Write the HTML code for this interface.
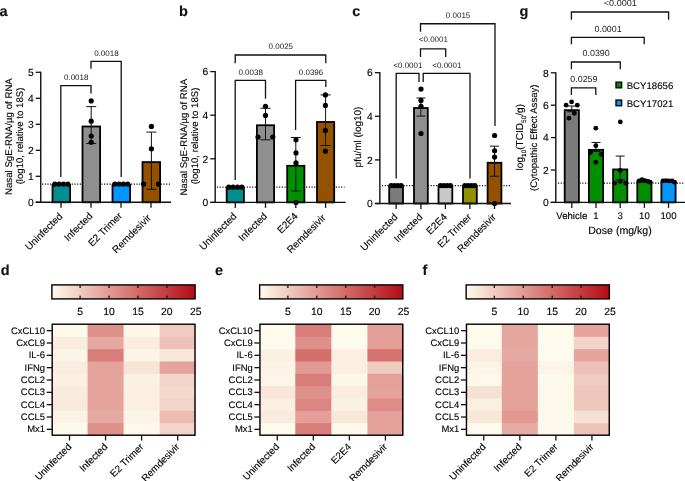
<!DOCTYPE html><html><head><meta charset="utf-8"><style>html,body{margin:0;padding:0;background:#fff;}svg{display:block;will-change:transform;}text{font-family:"Liberation Sans",sans-serif;text-rendering:geometricPrecision;stroke:#000;stroke-width:0.12px;}</style></head><body>
<svg width="685" height="481" viewBox="0 0 685 481">
<rect width="685" height="481" fill="#fff"/>
<text x="-0.6" y="15.7" font-size="14.5" text-anchor="start" fill="#111" font-weight="bold" >a</text>
<text x="178.9" y="15.6" font-size="14.5" text-anchor="start" fill="#111" font-weight="bold" >b</text>
<text x="352.2" y="15.6" font-size="14.5" text-anchor="start" fill="#111" font-weight="bold" >c</text>
<text x="519.4" y="15.6" font-size="14.5" text-anchor="start" fill="#111" font-weight="bold" >g</text>
<text x="0.7" y="274.6" font-size="14.5" text-anchor="start" fill="#111" font-weight="bold" >d</text>
<text x="215.1" y="274.6" font-size="14.5" text-anchor="start" fill="#111" font-weight="bold" >e</text>
<text x="422.4" y="274.6" font-size="14.5" text-anchor="start" fill="#111" font-weight="bold" >f</text>
<line x1="42" y1="184.1" x2="170" y2="184.1" stroke="#000" stroke-width="1.05" stroke-dasharray="1.1 1.6"/>
<rect x="52.5" y="185" width="17.6" height="17.3" fill="#008f8f" stroke="#000" stroke-width="1.8"/>
<rect x="82.5" y="126.5" width="17.6" height="75.8" fill="#8f8f8f" stroke="#000" stroke-width="1.8"/>
<rect x="112.5" y="185" width="17.6" height="17.3" fill="#0096ff" stroke="#000" stroke-width="1.8"/>
<rect x="142.5" y="162.12" width="17.6" height="40.18" fill="#945200" stroke="#000" stroke-width="1.8"/>
<line x1="91.2" y1="143.54" x2="91.2" y2="106.62" stroke="#111" stroke-width="1.0" />
<line x1="86.2" y1="106.62" x2="96.2" y2="106.62" stroke="#111" stroke-width="1.0" />
<line x1="86.2" y1="143.54" x2="96.2" y2="143.54" stroke="#111" stroke-width="1.0" />
<line x1="151.4" y1="189.3" x2="151.4" y2="132.1" stroke="#111" stroke-width="1.0" />
<line x1="146.4" y1="132.1" x2="156.4" y2="132.1" stroke="#111" stroke-width="1.0" />
<line x1="146.4" y1="189.3" x2="156.4" y2="189.3" stroke="#111" stroke-width="1.0" />
<circle cx="54.8" cy="184.1" r="2.6" fill="#000"/>
<circle cx="59.1" cy="184.1" r="2.6" fill="#000"/>
<circle cx="63.5" cy="184.1" r="2.6" fill="#000"/>
<circle cx="67.8" cy="184.1" r="2.6" fill="#000"/>
<circle cx="114.8" cy="184.1" r="2.6" fill="#000"/>
<circle cx="119.1" cy="184.1" r="2.6" fill="#000"/>
<circle cx="123.5" cy="184.1" r="2.6" fill="#000"/>
<circle cx="127.8" cy="184.1" r="2.6" fill="#000"/>
<circle cx="91.2" cy="100.9" r="2.6" fill="#000"/>
<circle cx="91.2" cy="121.18" r="2.6" fill="#000"/>
<circle cx="91.2" cy="136" r="2.6" fill="#000"/>
<circle cx="91.2" cy="142.24" r="2.6" fill="#000"/>
<circle cx="151.4" cy="126.38" r="2.6" fill="#000"/>
<circle cx="151.4" cy="148.74" r="2.6" fill="#000"/>
<circle cx="143.6" cy="184.1" r="2.6" fill="#000"/>
<circle cx="158.4" cy="184.1" r="2.6" fill="#000"/>
<line x1="40.75" y1="71.65" x2="40.75" y2="202.3" stroke="#111" stroke-width="1.4" />
<line x1="35.75" y1="202.3" x2="40.75" y2="202.3" stroke="#111" stroke-width="1.3" />
<text x="33.75" y="206" font-size="10.3" text-anchor="end" fill="#000" font-weight="normal" >0</text>
<line x1="35.75" y1="176.3" x2="40.75" y2="176.3" stroke="#111" stroke-width="1.3" />
<text x="33.75" y="180" font-size="10.3" text-anchor="end" fill="#000" font-weight="normal" >1</text>
<line x1="35.75" y1="150.3" x2="40.75" y2="150.3" stroke="#111" stroke-width="1.3" />
<text x="33.75" y="154" font-size="10.3" text-anchor="end" fill="#000" font-weight="normal" >2</text>
<line x1="35.75" y1="124.3" x2="40.75" y2="124.3" stroke="#111" stroke-width="1.3" />
<text x="33.75" y="128" font-size="10.3" text-anchor="end" fill="#000" font-weight="normal" >3</text>
<line x1="35.75" y1="98.3" x2="40.75" y2="98.3" stroke="#111" stroke-width="1.3" />
<text x="33.75" y="102" font-size="10.3" text-anchor="end" fill="#000" font-weight="normal" >4</text>
<line x1="35.75" y1="72.3" x2="40.75" y2="72.3" stroke="#111" stroke-width="1.3" />
<text x="33.75" y="76" font-size="10.3" text-anchor="end" fill="#000" font-weight="normal" >5</text>
<line x1="35.75" y1="202.3" x2="171" y2="202.3" stroke="#111" stroke-width="1.4" />
<line x1="61" y1="202.3" x2="61" y2="207.8" stroke="#111" stroke-width="1.3" />
<line x1="91" y1="202.3" x2="91" y2="207.8" stroke="#111" stroke-width="1.3" />
<line x1="121" y1="202.3" x2="121" y2="207.8" stroke="#111" stroke-width="1.3" />
<line x1="151" y1="202.3" x2="151" y2="207.8" stroke="#111" stroke-width="1.3" />
<polyline points="60.8,177 60.8,85.7 91,85.7 91,93.6" fill="none" stroke="#111" stroke-width="1.3"/>
<text x="76.2" y="80" font-size="8" text-anchor="middle" fill="#1a1a1a" font-weight="normal"  style="stroke:none">0.0018</text>
<polyline points="91,68.8 91,61.3 121.2,61.3 121.2,177" fill="none" stroke="#111" stroke-width="1.3"/>
<text x="106.4" y="55.6" font-size="8" text-anchor="middle" fill="#1a1a1a" font-weight="normal"  style="stroke:none">0.0018</text>
<text x="12.2" y="136.6" font-size="9.68" text-anchor="middle" fill="#000" transform="rotate(-90 12.2 136.6)">Nasal SgE-RNA/µg of RNA</text>
<text x="23" y="136" font-size="9.62" text-anchor="middle" fill="#000" transform="rotate(-90 23 136)">(log10, relative to 18S)</text>
<text x="63.1" y="217" font-size="10" text-anchor="end" fill="#000" transform="rotate(-45 63.1 217)">Uninfected</text>
<text x="93.3" y="216.5" font-size="10" text-anchor="end" fill="#000" transform="rotate(-45 93.3 216.5)">Infected</text>
<text x="122.8" y="216.4" font-size="10" text-anchor="end" fill="#000" transform="rotate(-45 122.8 216.4)">E2 Trimer</text>
<text x="151.7" y="218.4" font-size="10" text-anchor="end" fill="#000" transform="rotate(-45 151.7 218.4)">Remdesivir</text>
<line x1="217" y1="187.14" x2="344.5" y2="187.14" stroke="#000" stroke-width="1.05" stroke-dasharray="1.1 1.6"/>
<rect x="226.7" y="188.04" width="17.2" height="14.36" fill="#008f8f" stroke="#000" stroke-width="1.8"/>
<rect x="256.9" y="125.26" width="17.2" height="77.14" fill="#8f8f8f" stroke="#000" stroke-width="1.8"/>
<rect x="287.2" y="165.8" width="17.2" height="36.6" fill="#008f00" stroke="#000" stroke-width="1.8"/>
<rect x="317" y="121.99" width="17.2" height="80.41" fill="#945200" stroke="#000" stroke-width="1.8"/>
<line x1="265.5" y1="139.83" x2="265.5" y2="108.22" stroke="#111" stroke-width="1.0" />
<line x1="260.5" y1="108.22" x2="270.5" y2="108.22" stroke="#111" stroke-width="1.0" />
<line x1="260.5" y1="139.83" x2="270.5" y2="139.83" stroke="#111" stroke-width="1.0" />
<line x1="295.8" y1="191.06" x2="295.8" y2="137.44" stroke="#111" stroke-width="1.0" />
<line x1="290.8" y1="137.44" x2="300.8" y2="137.44" stroke="#111" stroke-width="1.0" />
<line x1="290.8" y1="191.06" x2="300.8" y2="191.06" stroke="#111" stroke-width="1.0" />
<line x1="325.6" y1="145.5" x2="325.6" y2="94.93" stroke="#111" stroke-width="1.0" />
<line x1="320.6" y1="94.93" x2="330.6" y2="94.93" stroke="#111" stroke-width="1.0" />
<line x1="320.6" y1="145.5" x2="330.6" y2="145.5" stroke="#111" stroke-width="1.0" />
<circle cx="228.8" cy="187.14" r="2.6" fill="#000"/>
<circle cx="233.1" cy="187.14" r="2.6" fill="#000"/>
<circle cx="237.5" cy="187.14" r="2.6" fill="#000"/>
<circle cx="241.8" cy="187.14" r="2.6" fill="#000"/>
<circle cx="265.5" cy="106.26" r="2.6" fill="#000"/>
<circle cx="265.5" cy="115.42" r="2.6" fill="#000"/>
<circle cx="258" cy="137" r="2.6" fill="#000"/>
<circle cx="272.8" cy="137" r="2.6" fill="#000"/>
<circle cx="296" cy="139.83" r="2.6" fill="#000"/>
<circle cx="296" cy="152.91" r="2.6" fill="#000"/>
<circle cx="296" cy="162.94" r="2.6" fill="#000"/>
<circle cx="296" cy="202.4" r="2.6" fill="#000"/>
<circle cx="325.4" cy="94.93" r="2.6" fill="#000"/>
<circle cx="325.4" cy="105.39" r="2.6" fill="#000"/>
<circle cx="325.4" cy="130.46" r="2.6" fill="#000"/>
<circle cx="325.4" cy="151.17" r="2.6" fill="#000"/>
<line x1="215.2" y1="70.95" x2="215.2" y2="202.4" stroke="#111" stroke-width="1.4" />
<line x1="210.2" y1="202.4" x2="215.2" y2="202.4" stroke="#111" stroke-width="1.3" />
<text x="208.2" y="206.1" font-size="10.3" text-anchor="end" fill="#000" font-weight="normal" >0</text>
<line x1="210.2" y1="158.8" x2="215.2" y2="158.8" stroke="#111" stroke-width="1.3" />
<text x="208.2" y="162.5" font-size="10.3" text-anchor="end" fill="#000" font-weight="normal" >2</text>
<line x1="210.2" y1="115.2" x2="215.2" y2="115.2" stroke="#111" stroke-width="1.3" />
<text x="208.2" y="118.9" font-size="10.3" text-anchor="end" fill="#000" font-weight="normal" >4</text>
<line x1="210.2" y1="71.6" x2="215.2" y2="71.6" stroke="#111" stroke-width="1.3" />
<text x="208.2" y="75.3" font-size="10.3" text-anchor="end" fill="#000" font-weight="normal" >6</text>
<line x1="210.2" y1="202.4" x2="345.8" y2="202.4" stroke="#111" stroke-width="1.4" />
<line x1="235.3" y1="202.4" x2="235.3" y2="207.9" stroke="#111" stroke-width="1.3" />
<line x1="265.5" y1="202.4" x2="265.5" y2="207.9" stroke="#111" stroke-width="1.3" />
<line x1="295.8" y1="202.4" x2="295.8" y2="207.9" stroke="#111" stroke-width="1.3" />
<line x1="325.6" y1="202.4" x2="325.6" y2="207.9" stroke="#111" stroke-width="1.3" />
<polyline points="235.2,63.2 235.2,55 325.8,55 325.8,63.2" fill="none" stroke="#111" stroke-width="1.3"/>
<text x="280.8" y="49.3" font-size="8" text-anchor="middle" fill="#1a1a1a" font-weight="normal"  style="stroke:none">0.0025</text>
<polyline points="235.2,180 235.2,80.3 265.5,80.3 265.5,98.7" fill="none" stroke="#111" stroke-width="1.3"/>
<text x="250.65" y="74.6" font-size="8" text-anchor="middle" fill="#1a1a1a" font-weight="normal"  style="stroke:none">0.0038</text>
<polyline points="295.6,130 295.6,80.3 325.8,80.3 325.8,87" fill="none" stroke="#111" stroke-width="1.3"/>
<text x="311" y="74.6" font-size="8" text-anchor="middle" fill="#1a1a1a" font-weight="normal"  style="stroke:none">0.0396</text>
<text x="187.5" y="137.2" font-size="9.68" text-anchor="middle" fill="#000" transform="rotate(-90 187.5 137.2)">Nasal SgE-RNA/µg of RNA</text>
<text x="198.3" y="136" font-size="9.62" text-anchor="middle" fill="#000" transform="rotate(-90 198.3 136)">(log10, relative to 18S)</text>
<text x="237.3" y="216.9" font-size="10" text-anchor="end" fill="#000" transform="rotate(-45 237.3 216.9)">Uninfected</text>
<text x="267.8" y="216.7" font-size="10" text-anchor="end" fill="#000" transform="rotate(-45 267.8 216.7)">Infected</text>
<text x="298.5" y="216.7" font-size="10" text-anchor="end" fill="#000" transform="rotate(-45 298.5 216.7)">E2E4</text>
<text x="326.3" y="218.4" font-size="10" text-anchor="end" fill="#000" transform="rotate(-45 326.3 218.4)">Remdesivir</text>
<line x1="382" y1="185.62" x2="510" y2="185.62" stroke="#000" stroke-width="1.05" stroke-dasharray="1.1 1.6"/>
<rect x="389.2" y="186.52" width="13.8" height="16.98" fill="#7b7b7b" stroke="#000" stroke-width="1.8"/>
<rect x="414" y="108.04" width="13.8" height="95.46" fill="#8f8f8f" stroke="#000" stroke-width="1.8"/>
<rect x="438.5" y="186.52" width="13.8" height="16.98" fill="#c8c8c8" stroke="#000" stroke-width="1.8"/>
<rect x="463" y="186.52" width="13.8" height="16.98" fill="#929000" stroke="#000" stroke-width="1.8"/>
<rect x="487.6" y="162.76" width="13.8" height="40.74" fill="#945200" stroke="#000" stroke-width="1.8"/>
<line x1="420.9" y1="116.08" x2="420.9" y2="97.99" stroke="#111" stroke-width="1.0" />
<line x1="416.4" y1="97.99" x2="425.4" y2="97.99" stroke="#111" stroke-width="1.0" />
<line x1="416.4" y1="116.08" x2="425.4" y2="116.08" stroke="#111" stroke-width="1.0" />
<line x1="494.5" y1="176.25" x2="494.5" y2="146.17" stroke="#111" stroke-width="1.0" />
<line x1="490" y1="146.17" x2="499" y2="146.17" stroke="#111" stroke-width="1.0" />
<line x1="490" y1="176.25" x2="499" y2="176.25" stroke="#111" stroke-width="1.0" />
<circle cx="391.1" cy="185.62" r="2.6" fill="#000"/>
<circle cx="394.4" cy="185.62" r="2.6" fill="#000"/>
<circle cx="397.8" cy="185.62" r="2.6" fill="#000"/>
<circle cx="401.1" cy="185.62" r="2.6" fill="#000"/>
<circle cx="440.4" cy="185.62" r="2.6" fill="#000"/>
<circle cx="443.7" cy="185.62" r="2.6" fill="#000"/>
<circle cx="447.1" cy="185.62" r="2.6" fill="#000"/>
<circle cx="450.4" cy="185.62" r="2.6" fill="#000"/>
<circle cx="464.9" cy="185.62" r="2.6" fill="#000"/>
<circle cx="468.2" cy="185.62" r="2.6" fill="#000"/>
<circle cx="471.6" cy="185.62" r="2.6" fill="#000"/>
<circle cx="474.9" cy="185.62" r="2.6" fill="#000"/>
<circle cx="421" cy="89.05" r="2.6" fill="#000"/>
<circle cx="421" cy="100.39" r="2.6" fill="#000"/>
<circle cx="421" cy="106.27" r="2.6" fill="#000"/>
<circle cx="421" cy="133.52" r="2.6" fill="#000"/>
<circle cx="494.6" cy="135.48" r="2.6" fill="#000"/>
<circle cx="494.6" cy="150.74" r="2.6" fill="#000"/>
<circle cx="494.6" cy="157.07" r="2.6" fill="#000"/>
<circle cx="494.6" cy="203.5" r="2.6" fill="#000"/>
<line x1="379.85" y1="72.05" x2="379.85" y2="203.5" stroke="#111" stroke-width="1.4" />
<line x1="374.85" y1="203.5" x2="379.85" y2="203.5" stroke="#111" stroke-width="1.3" />
<text x="372.85" y="207.2" font-size="10.3" text-anchor="end" fill="#000" font-weight="normal" >0</text>
<line x1="374.85" y1="159.9" x2="379.85" y2="159.9" stroke="#111" stroke-width="1.3" />
<text x="372.85" y="163.6" font-size="10.3" text-anchor="end" fill="#000" font-weight="normal" >2</text>
<line x1="374.85" y1="116.3" x2="379.85" y2="116.3" stroke="#111" stroke-width="1.3" />
<text x="372.85" y="120" font-size="10.3" text-anchor="end" fill="#000" font-weight="normal" >4</text>
<line x1="374.85" y1="72.7" x2="379.85" y2="72.7" stroke="#111" stroke-width="1.3" />
<text x="372.85" y="76.4" font-size="10.3" text-anchor="end" fill="#000" font-weight="normal" >6</text>
<line x1="374.85" y1="203.5" x2="511" y2="203.5" stroke="#111" stroke-width="1.4" />
<line x1="396.1" y1="203.5" x2="396.1" y2="209" stroke="#111" stroke-width="1.3" />
<line x1="420.9" y1="203.5" x2="420.9" y2="209" stroke="#111" stroke-width="1.3" />
<line x1="445.4" y1="203.5" x2="445.4" y2="209" stroke="#111" stroke-width="1.3" />
<line x1="469.9" y1="203.5" x2="469.9" y2="209" stroke="#111" stroke-width="1.3" />
<line x1="494.5" y1="203.5" x2="494.5" y2="209" stroke="#111" stroke-width="1.3" />
<polyline points="396.2,178.6 396.2,73.4 419,73.4 419,82" fill="none" stroke="#111" stroke-width="1.3"/>
<text x="407.9" y="67.7" font-size="8" text-anchor="middle" fill="#1a1a1a" font-weight="normal"  style="stroke:none">&lt;0.0001</text>
<polyline points="423.2,82 423.2,73.4 470,73.4 470,178.6" fill="none" stroke="#111" stroke-width="1.3"/>
<text x="446.9" y="67.7" font-size="8" text-anchor="middle" fill="#1a1a1a" font-weight="normal"  style="stroke:none">&lt;0.0001</text>
<polyline points="420.5,57 420.5,48.8 445.7,48.8 445.7,57" fill="none" stroke="#111" stroke-width="1.3"/>
<text x="433.4" y="42.3" font-size="8" text-anchor="middle" fill="#1a1a1a" font-weight="normal"  style="stroke:none">&lt;0.0001</text>
<polyline points="420.5,31.75 420.5,23.75 495,23.75 495,126" fill="none" stroke="#111" stroke-width="1.3"/>
<text x="458.05" y="18.05" font-size="8" text-anchor="middle" fill="#1a1a1a" font-weight="normal"  style="stroke:none">0.0015</text>
<text x="361" y="137" font-size="9.95" text-anchor="middle" fill="#000" transform="rotate(-90 361 137)">pfu/ml (log10)</text>
<text x="398.3" y="217.6" font-size="10" text-anchor="end" fill="#000" transform="rotate(-45 398.3 217.6)">Uninfected</text>
<text x="423.1" y="217.6" font-size="10" text-anchor="end" fill="#000" transform="rotate(-45 423.1 217.6)">Infected</text>
<text x="447.6" y="217.6" font-size="10" text-anchor="end" fill="#000" transform="rotate(-45 447.6 217.6)">E2E4</text>
<text x="472.1" y="217.6" font-size="10" text-anchor="end" fill="#000" transform="rotate(-45 472.1 217.6)">E2 Trimer</text>
<text x="496.7" y="217.6" font-size="10" text-anchor="end" fill="#000" transform="rotate(-45 496.7 217.6)">Remdesivir</text>
<line x1="558" y1="183.12" x2="684" y2="183.12" stroke="#000" stroke-width="1.05" stroke-dasharray="1.1 1.6"/>
<rect x="564.7" y="110.15" width="14.2" height="92.25" fill="#7b7b7b" stroke="#000" stroke-width="1.8"/>
<rect x="588.9" y="149.84" width="14.2" height="52.56" fill="#008f00" stroke="#000" stroke-width="1.8"/>
<rect x="613.1" y="169.44" width="14.2" height="32.96" fill="#008f00" stroke="#000" stroke-width="1.8"/>
<rect x="637.3" y="181.75" width="14.2" height="20.65" fill="#008f00" stroke="#000" stroke-width="1.8"/>
<rect x="661.4" y="181.75" width="14.2" height="20.65" fill="#0096ff" stroke="#000" stroke-width="1.8"/>
<line x1="571.8" y1="111.68" x2="571.8" y2="106.01" stroke="#111" stroke-width="1.0" />
<line x1="567.3" y1="106.01" x2="576.3" y2="106.01" stroke="#111" stroke-width="1.0" />
<line x1="567.3" y1="111.68" x2="576.3" y2="111.68" stroke="#111" stroke-width="1.0" />
<line x1="596" y1="151.37" x2="596" y2="142.46" stroke="#111" stroke-width="1.0" />
<line x1="591.5" y1="142.46" x2="600.5" y2="142.46" stroke="#111" stroke-width="1.0" />
<line x1="591.5" y1="151.37" x2="600.5" y2="151.37" stroke="#111" stroke-width="1.0" />
<line x1="620.2" y1="179.72" x2="620.2" y2="156.07" stroke="#111" stroke-width="1.0" />
<line x1="615.7" y1="156.07" x2="624.7" y2="156.07" stroke="#111" stroke-width="1.0" />
<line x1="615.7" y1="179.72" x2="624.7" y2="179.72" stroke="#111" stroke-width="1.0" />
<circle cx="566.1" cy="105.2" r="2.4" fill="#000"/>
<circle cx="571.6" cy="101.96" r="2.4" fill="#000"/>
<circle cx="577.3" cy="105.2" r="2.4" fill="#000"/>
<circle cx="574.4" cy="113.3" r="2.4" fill="#000"/>
<circle cx="568.9" cy="118.16" r="2.4" fill="#000"/>
<circle cx="595.8" cy="128.2" r="2.4" fill="#000"/>
<circle cx="595.8" cy="145.7" r="2.4" fill="#000"/>
<circle cx="590.5" cy="152.5" r="2.4" fill="#000"/>
<circle cx="601.1" cy="154.29" r="2.4" fill="#000"/>
<circle cx="595.8" cy="162.22" r="2.4" fill="#000"/>
<circle cx="620.3" cy="121.89" r="2.4" fill="#000"/>
<circle cx="620.2" cy="170.32" r="2.4" fill="#000"/>
<circle cx="614.8" cy="183.12" r="2.4" fill="#000"/>
<circle cx="620.2" cy="181.34" r="2.4" fill="#000"/>
<circle cx="625.6" cy="183.12" r="2.4" fill="#000"/>
<circle cx="639" cy="180.85" r="2.4" fill="#000"/>
<circle cx="642" cy="179.72" r="2.4" fill="#000"/>
<circle cx="645" cy="180.53" r="2.4" fill="#000"/>
<circle cx="648" cy="181.34" r="2.4" fill="#000"/>
<circle cx="650" cy="182.15" r="2.4" fill="#000"/>
<circle cx="663" cy="180.85" r="2.4" fill="#000"/>
<circle cx="666" cy="180.53" r="2.4" fill="#000"/>
<circle cx="669" cy="180.85" r="2.4" fill="#000"/>
<circle cx="672" cy="180.85" r="2.4" fill="#000"/>
<circle cx="674.5" cy="182.15" r="2.4" fill="#000"/>
<line x1="555.8" y1="72.15" x2="555.8" y2="202.4" stroke="#111" stroke-width="1.4" />
<line x1="550.8" y1="202.4" x2="555.8" y2="202.4" stroke="#111" stroke-width="1.3" />
<text x="548.8" y="206.1" font-size="10.3" text-anchor="end" fill="#000" font-weight="normal" >0</text>
<line x1="550.8" y1="170" x2="555.8" y2="170" stroke="#111" stroke-width="1.3" />
<text x="548.8" y="173.7" font-size="10.3" text-anchor="end" fill="#000" font-weight="normal" >2</text>
<line x1="550.8" y1="137.6" x2="555.8" y2="137.6" stroke="#111" stroke-width="1.3" />
<text x="548.8" y="141.3" font-size="10.3" text-anchor="end" fill="#000" font-weight="normal" >4</text>
<line x1="550.8" y1="105.2" x2="555.8" y2="105.2" stroke="#111" stroke-width="1.3" />
<text x="548.8" y="108.9" font-size="10.3" text-anchor="end" fill="#000" font-weight="normal" >6</text>
<line x1="550.8" y1="72.8" x2="555.8" y2="72.8" stroke="#111" stroke-width="1.3" />
<text x="548.8" y="76.5" font-size="10.3" text-anchor="end" fill="#000" font-weight="normal" >8</text>
<line x1="550.6" y1="202.4" x2="685" y2="202.4" stroke="#111" stroke-width="1.4" />
<line x1="571.8" y1="202.4" x2="571.8" y2="207.9" stroke="#111" stroke-width="1.3" />
<line x1="596" y1="202.4" x2="596" y2="207.9" stroke="#111" stroke-width="1.3" />
<line x1="620.2" y1="202.4" x2="620.2" y2="207.9" stroke="#111" stroke-width="1.3" />
<line x1="644.4" y1="202.4" x2="644.4" y2="207.9" stroke="#111" stroke-width="1.3" />
<line x1="668.5" y1="202.4" x2="668.5" y2="207.9" stroke="#111" stroke-width="1.3" />
<polyline points="571.4,95 571.4,87.8 595.8,87.8 595.8,95" fill="none" stroke="#111" stroke-width="1.3"/>
<text x="583.9" y="82.1" font-size="8.8" text-anchor="middle" fill="#1a1a1a" font-weight="normal"  textLength="27.2" lengthAdjust="spacingAndGlyphs" style="stroke:none">0.0259</text>
<polyline points="571.4,69.3 571.4,62 620.3,62 620.3,69.3" fill="none" stroke="#111" stroke-width="1.3"/>
<text x="596.15" y="56.3" font-size="8.8" text-anchor="middle" fill="#1a1a1a" font-weight="normal"  textLength="27.2" lengthAdjust="spacingAndGlyphs" style="stroke:none">0.0390</text>
<polyline points="571.4,44.3 571.4,37.4 644.2,37.4 644.2,44.3" fill="none" stroke="#111" stroke-width="1.3"/>
<text x="608.1" y="31.7" font-size="8.8" text-anchor="middle" fill="#1a1a1a" font-weight="normal"  textLength="27.2" lengthAdjust="spacingAndGlyphs" style="stroke:none">0.0001</text>
<polyline points="571.4,19.8 571.4,12 668.6,12 668.6,19.8" fill="none" stroke="#111" stroke-width="1.3"/>
<text x="620.3" y="6.3" font-size="8.8" text-anchor="middle" fill="#1a1a1a" font-weight="normal"  textLength="33" lengthAdjust="spacingAndGlyphs" style="stroke:none">&lt;0.0001</text>
<rect x="616" y="82.2" width="5.6" height="5.6" fill="#008f00" stroke="#000" stroke-width="1.4"/>
<rect x="616" y="100.1" width="5.6" height="5.6" fill="#0096ff" stroke="#000" stroke-width="1.4"/>
<text x="626.7" y="88.6" font-size="9.65" text-anchor="start" fill="#000" font-weight="normal" >BCY18656</text>
<text x="626.7" y="106.5" font-size="9.65" text-anchor="start" fill="#000" font-weight="normal" >BCY17021</text>
<text x="571.8" y="218.7" font-size="9.6" text-anchor="middle" fill="#000" font-weight="normal" >Vehicle</text>
<text x="596" y="218.7" font-size="9.6" text-anchor="middle" fill="#000" font-weight="normal" >1</text>
<text x="620.2" y="218.7" font-size="9.6" text-anchor="middle" fill="#000" font-weight="normal" >3</text>
<text x="644.4" y="218.7" font-size="9.6" text-anchor="middle" fill="#000" font-weight="normal" >10</text>
<text x="668.5" y="218.7" font-size="9.6" text-anchor="middle" fill="#000" font-weight="normal" >100</text>
<text x="620" y="234.2" font-size="10.6" text-anchor="middle" fill="#000" font-weight="normal" >Dose (mg/kg)</text>
<text x="0" y="0" font-size="10.1" text-anchor="middle" fill="#000" transform="translate(523.3 137.2) rotate(-90)">log<tspan font-size="6.4" dy="2.4">10</tspan><tspan dy="-2.4">(TCID</tspan><tspan font-size="6.4" dy="2.4">50</tspan><tspan dy="-2.4">/g)</tspan></text>
<text x="537.3" y="137.8" font-size="9.55" text-anchor="middle" fill="#000" transform="rotate(-90 537.3 137.8)">(Cytopathic Effect Assay)</text>
<defs><linearGradient id="cb" x1="0" x2="1" y1="0" y2="0">
<stop offset="0.0" stop-color="rgb(254, 251, 236)"/>
<stop offset="0.5" stop-color="rgb(218, 130, 125)"/>
<stop offset="1.0" stop-color="rgb(180, 12, 20)"/>
</linearGradient></defs>
<rect x="51.9" y="284.9" width="143.2" height="14" fill="url(#cb)" stroke="#000" stroke-width="1.4"/>
<line x1="80.12" y1="285.2" x2="80.12" y2="288" stroke="#111" stroke-width="1.3" />
<line x1="80.12" y1="295.8" x2="80.12" y2="298.6" stroke="#111" stroke-width="1.3" />
<text x="80.12" y="314.9" font-size="10.4" text-anchor="middle" fill="#000" font-weight="normal" >5</text>
<line x1="109.04" y1="285.2" x2="109.04" y2="288" stroke="#111" stroke-width="1.3" />
<line x1="109.04" y1="295.8" x2="109.04" y2="298.6" stroke="#111" stroke-width="1.3" />
<text x="109.04" y="314.9" font-size="10.4" text-anchor="middle" fill="#000" font-weight="normal" >10</text>
<line x1="137.96" y1="285.2" x2="137.96" y2="288" stroke="#111" stroke-width="1.3" />
<line x1="137.96" y1="295.8" x2="137.96" y2="298.6" stroke="#111" stroke-width="1.3" />
<text x="137.96" y="314.9" font-size="10.4" text-anchor="middle" fill="#000" font-weight="normal" >15</text>
<line x1="166.88" y1="285.2" x2="166.88" y2="288" stroke="#111" stroke-width="1.3" />
<line x1="166.88" y1="295.8" x2="166.88" y2="298.6" stroke="#111" stroke-width="1.3" />
<text x="166.88" y="314.9" font-size="10.4" text-anchor="middle" fill="#000" font-weight="normal" >20</text>
<text x="195.8" y="314.9" font-size="10.4" text-anchor="middle" fill="#000" font-weight="normal" >25</text>
<rect x="51.5" y="324.5" width="37.05" height="13.33" fill="#fefaeb"/>
<rect x="87.55" y="324.5" width="37.05" height="13.33" fill="#de918a"/>
<rect x="123.6" y="324.5" width="37.05" height="13.33" fill="#fdf7e8"/>
<rect x="159.65" y="324.5" width="36.05" height="13.33" fill="#f0cbc0"/>
<rect x="51.5" y="336.83" width="37.05" height="13.33" fill="#faede0"/>
<rect x="87.55" y="336.83" width="37.05" height="13.33" fill="#e6a9a1"/>
<rect x="123.6" y="336.83" width="37.05" height="13.33" fill="#faede0"/>
<rect x="159.65" y="336.83" width="36.05" height="13.33" fill="#edc1b7"/>
<rect x="51.5" y="349.17" width="37.05" height="13.33" fill="#fcf5e7"/>
<rect x="87.55" y="349.17" width="37.05" height="13.33" fill="#d87d79"/>
<rect x="123.6" y="349.17" width="37.05" height="13.33" fill="#fcf5e7"/>
<rect x="159.65" y="349.17" width="36.05" height="13.33" fill="#f8e6d8"/>
<rect x="51.5" y="361.5" width="37.05" height="13.33" fill="#faede0"/>
<rect x="87.55" y="361.5" width="37.05" height="13.33" fill="#e4a49c"/>
<rect x="123.6" y="361.5" width="37.05" height="13.33" fill="#f7e4d7"/>
<rect x="159.65" y="361.5" width="36.05" height="13.33" fill="#e4a49c"/>
<rect x="51.5" y="373.83" width="37.05" height="13.33" fill="#fbf0e2"/>
<rect x="87.55" y="373.83" width="37.05" height="13.33" fill="#e4a49c"/>
<rect x="123.6" y="373.83" width="37.05" height="13.33" fill="#fbf1e3"/>
<rect x="159.65" y="373.83" width="36.05" height="13.33" fill="#f2d4c8"/>
<rect x="51.5" y="386.17" width="37.05" height="13.33" fill="#f9ecde"/>
<rect x="87.55" y="386.17" width="37.05" height="13.33" fill="#e4a49c"/>
<rect x="123.6" y="386.17" width="37.05" height="13.33" fill="#fbefe1"/>
<rect x="159.65" y="386.17" width="36.05" height="13.33" fill="#f4d9cd"/>
<rect x="51.5" y="398.5" width="37.05" height="13.33" fill="#f9e9db"/>
<rect x="87.55" y="398.5" width="37.05" height="13.33" fill="#e4a49c"/>
<rect x="123.6" y="398.5" width="37.05" height="13.33" fill="#fbefe1"/>
<rect x="159.65" y="398.5" width="36.05" height="13.33" fill="#f2d4c8"/>
<rect x="51.5" y="410.83" width="37.05" height="13.33" fill="#fcf3e5"/>
<rect x="87.55" y="410.83" width="37.05" height="13.33" fill="#e6a9a1"/>
<rect x="123.6" y="410.83" width="37.05" height="13.33" fill="#fcf4e6"/>
<rect x="159.65" y="410.83" width="36.05" height="13.33" fill="#ebbcb2"/>
<rect x="51.5" y="423.17" width="37.05" height="12.33" fill="#fefaeb"/>
<rect x="87.55" y="423.17" width="37.05" height="12.33" fill="#de918a"/>
<rect x="123.6" y="423.17" width="37.05" height="12.33" fill="#fdf8e9"/>
<rect x="159.65" y="423.17" width="36.05" height="12.33" fill="#f2d4c8"/>
<rect x="52.2" y="324.2" width="142.8" height="111" fill="none" stroke="#000" stroke-width="1.4"/>
<line x1="46.7" y1="330.67" x2="52" y2="330.67" stroke="#111" stroke-width="1.3" />
<text x="45" y="333.67" font-size="9.45" text-anchor="end" fill="#000" font-weight="normal" >CxCL10</text>
<line x1="46.7" y1="343" x2="52" y2="343" stroke="#111" stroke-width="1.3" />
<text x="45" y="346" font-size="9.45" text-anchor="end" fill="#000" font-weight="normal" >CxCL9</text>
<line x1="46.7" y1="355.33" x2="52" y2="355.33" stroke="#111" stroke-width="1.3" />
<text x="45" y="358.33" font-size="9.45" text-anchor="end" fill="#000" font-weight="normal" >IL-6</text>
<line x1="46.7" y1="367.67" x2="52" y2="367.67" stroke="#111" stroke-width="1.3" />
<text x="45" y="370.67" font-size="9.45" text-anchor="end" fill="#000" font-weight="normal" >IFNg</text>
<line x1="46.7" y1="380" x2="52" y2="380" stroke="#111" stroke-width="1.3" />
<text x="45" y="383" font-size="9.45" text-anchor="end" fill="#000" font-weight="normal" >CCL2</text>
<line x1="46.7" y1="392.33" x2="52" y2="392.33" stroke="#111" stroke-width="1.3" />
<text x="45" y="395.33" font-size="9.45" text-anchor="end" fill="#000" font-weight="normal" >CCL3</text>
<line x1="46.7" y1="404.67" x2="52" y2="404.67" stroke="#111" stroke-width="1.3" />
<text x="45" y="407.67" font-size="9.45" text-anchor="end" fill="#000" font-weight="normal" >CCL4</text>
<line x1="46.7" y1="417" x2="52" y2="417" stroke="#111" stroke-width="1.3" />
<text x="45" y="420" font-size="9.45" text-anchor="end" fill="#000" font-weight="normal" >CCL5</text>
<line x1="46.7" y1="429.33" x2="52" y2="429.33" stroke="#111" stroke-width="1.3" />
<text x="45" y="432.33" font-size="9.45" text-anchor="end" fill="#000" font-weight="normal" >Mx1</text>
<line x1="69.53" y1="435.2" x2="69.53" y2="440.5" stroke="#111" stroke-width="1.3" />
<text x="72.03" y="447.5" font-size="9.8" text-anchor="end" fill="#000" transform="rotate(-45 72.03 447.5)">Uninfected</text>
<line x1="105.57" y1="435.2" x2="105.57" y2="440.5" stroke="#111" stroke-width="1.3" />
<text x="108.07" y="447.5" font-size="9.8" text-anchor="end" fill="#000" transform="rotate(-45 108.07 447.5)">Infected</text>
<line x1="141.62" y1="435.2" x2="141.62" y2="440.5" stroke="#111" stroke-width="1.3" />
<text x="144.12" y="447.5" font-size="9.8" text-anchor="end" fill="#000" transform="rotate(-45 144.12 447.5)">E2 Trimer</text>
<line x1="177.67" y1="435.2" x2="177.67" y2="440.5" stroke="#111" stroke-width="1.3" />
<text x="180.17" y="447.5" font-size="9.8" text-anchor="end" fill="#000" transform="rotate(-45 180.17 447.5)">Remdesivir</text>
<rect x="259.65" y="284.9" width="143.2" height="14" fill="url(#cb)" stroke="#000" stroke-width="1.4"/>
<line x1="287.87" y1="285.2" x2="287.87" y2="288" stroke="#111" stroke-width="1.3" />
<line x1="287.87" y1="295.8" x2="287.87" y2="298.6" stroke="#111" stroke-width="1.3" />
<text x="287.87" y="314.9" font-size="10.4" text-anchor="middle" fill="#000" font-weight="normal" >5</text>
<line x1="316.79" y1="285.2" x2="316.79" y2="288" stroke="#111" stroke-width="1.3" />
<line x1="316.79" y1="295.8" x2="316.79" y2="298.6" stroke="#111" stroke-width="1.3" />
<text x="316.79" y="314.9" font-size="10.4" text-anchor="middle" fill="#000" font-weight="normal" >10</text>
<line x1="345.71" y1="285.2" x2="345.71" y2="288" stroke="#111" stroke-width="1.3" />
<line x1="345.71" y1="295.8" x2="345.71" y2="298.6" stroke="#111" stroke-width="1.3" />
<text x="345.71" y="314.9" font-size="10.4" text-anchor="middle" fill="#000" font-weight="normal" >15</text>
<line x1="374.63" y1="285.2" x2="374.63" y2="288" stroke="#111" stroke-width="1.3" />
<line x1="374.63" y1="295.8" x2="374.63" y2="298.6" stroke="#111" stroke-width="1.3" />
<text x="374.63" y="314.9" font-size="10.4" text-anchor="middle" fill="#000" font-weight="normal" >20</text>
<text x="403.55" y="314.9" font-size="10.4" text-anchor="middle" fill="#000" font-weight="normal" >25</text>
<rect x="259.25" y="324.5" width="37.05" height="13.33" fill="#fefbec"/>
<rect x="295.3" y="324.5" width="37.05" height="13.33" fill="#d87d79"/>
<rect x="331.35" y="324.5" width="37.05" height="13.33" fill="#fefbec"/>
<rect x="367.4" y="324.5" width="36.05" height="13.33" fill="#e39f98"/>
<rect x="259.25" y="336.83" width="37.05" height="13.33" fill="#fefbec"/>
<rect x="295.3" y="336.83" width="37.05" height="13.33" fill="#de918a"/>
<rect x="331.35" y="336.83" width="37.05" height="13.33" fill="#fefbec"/>
<rect x="367.4" y="336.83" width="36.05" height="13.33" fill="#e39f98"/>
<rect x="259.25" y="349.17" width="37.05" height="13.33" fill="#fbf1e3"/>
<rect x="295.3" y="349.17" width="37.05" height="13.33" fill="#d46f6c"/>
<rect x="331.35" y="349.17" width="37.05" height="13.33" fill="#fbefe1"/>
<rect x="367.4" y="349.17" width="36.05" height="13.33" fill="#d5716e"/>
<rect x="259.25" y="361.5" width="37.05" height="13.33" fill="#fcf4e6"/>
<rect x="295.3" y="361.5" width="37.05" height="13.33" fill="#e19a93"/>
<rect x="331.35" y="361.5" width="37.05" height="13.33" fill="#fbefe1"/>
<rect x="367.4" y="361.5" width="36.05" height="13.33" fill="#f0cbc0"/>
<rect x="259.25" y="373.83" width="37.05" height="13.33" fill="#fdf6e8"/>
<rect x="295.3" y="373.83" width="37.05" height="13.33" fill="#d87d79"/>
<rect x="331.35" y="373.83" width="37.05" height="13.33" fill="#fdf7e8"/>
<rect x="367.4" y="373.83" width="36.05" height="13.33" fill="#e3a199"/>
<rect x="259.25" y="386.17" width="37.05" height="13.33" fill="#f8e6d8"/>
<rect x="295.3" y="386.17" width="37.05" height="13.33" fill="#de918a"/>
<rect x="331.35" y="386.17" width="37.05" height="13.33" fill="#faecdf"/>
<rect x="367.4" y="386.17" width="36.05" height="13.33" fill="#e4a29a"/>
<rect x="259.25" y="398.5" width="37.05" height="13.33" fill="#fbefe1"/>
<rect x="295.3" y="398.5" width="37.05" height="13.33" fill="#db8781"/>
<rect x="331.35" y="398.5" width="37.05" height="13.33" fill="#fbf1e3"/>
<rect x="367.4" y="398.5" width="36.05" height="13.33" fill="#dd8c86"/>
<rect x="259.25" y="410.83" width="37.05" height="13.33" fill="#f9ebdd"/>
<rect x="295.3" y="410.83" width="37.05" height="13.33" fill="#e39f98"/>
<rect x="331.35" y="410.83" width="37.05" height="13.33" fill="#f8e8da"/>
<rect x="367.4" y="410.83" width="36.05" height="13.33" fill="#e3a199"/>
<rect x="259.25" y="423.17" width="37.05" height="12.33" fill="#fefbec"/>
<rect x="295.3" y="423.17" width="37.05" height="12.33" fill="#d87d79"/>
<rect x="331.35" y="423.17" width="37.05" height="12.33" fill="#fefaeb"/>
<rect x="367.4" y="423.17" width="36.05" height="12.33" fill="#e4a29a"/>
<rect x="259.95" y="324.2" width="142.8" height="111" fill="none" stroke="#000" stroke-width="1.4"/>
<line x1="254.45" y1="330.67" x2="259.75" y2="330.67" stroke="#111" stroke-width="1.3" />
<text x="252.75" y="333.67" font-size="9.45" text-anchor="end" fill="#000" font-weight="normal" >CxCL10</text>
<line x1="254.45" y1="343" x2="259.75" y2="343" stroke="#111" stroke-width="1.3" />
<text x="252.75" y="346" font-size="9.45" text-anchor="end" fill="#000" font-weight="normal" >CxCL9</text>
<line x1="254.45" y1="355.33" x2="259.75" y2="355.33" stroke="#111" stroke-width="1.3" />
<text x="252.75" y="358.33" font-size="9.45" text-anchor="end" fill="#000" font-weight="normal" >IL-6</text>
<line x1="254.45" y1="367.67" x2="259.75" y2="367.67" stroke="#111" stroke-width="1.3" />
<text x="252.75" y="370.67" font-size="9.45" text-anchor="end" fill="#000" font-weight="normal" >IFNg</text>
<line x1="254.45" y1="380" x2="259.75" y2="380" stroke="#111" stroke-width="1.3" />
<text x="252.75" y="383" font-size="9.45" text-anchor="end" fill="#000" font-weight="normal" >CCL2</text>
<line x1="254.45" y1="392.33" x2="259.75" y2="392.33" stroke="#111" stroke-width="1.3" />
<text x="252.75" y="395.33" font-size="9.45" text-anchor="end" fill="#000" font-weight="normal" >CCL3</text>
<line x1="254.45" y1="404.67" x2="259.75" y2="404.67" stroke="#111" stroke-width="1.3" />
<text x="252.75" y="407.67" font-size="9.45" text-anchor="end" fill="#000" font-weight="normal" >CCL4</text>
<line x1="254.45" y1="417" x2="259.75" y2="417" stroke="#111" stroke-width="1.3" />
<text x="252.75" y="420" font-size="9.45" text-anchor="end" fill="#000" font-weight="normal" >CCL5</text>
<line x1="254.45" y1="429.33" x2="259.75" y2="429.33" stroke="#111" stroke-width="1.3" />
<text x="252.75" y="432.33" font-size="9.45" text-anchor="end" fill="#000" font-weight="normal" >Mx1</text>
<line x1="277.27" y1="435.2" x2="277.27" y2="440.5" stroke="#111" stroke-width="1.3" />
<text x="279.77" y="447.5" font-size="9.8" text-anchor="end" fill="#000" transform="rotate(-45 279.77 447.5)">Uninfected</text>
<line x1="313.32" y1="435.2" x2="313.32" y2="440.5" stroke="#111" stroke-width="1.3" />
<text x="315.82" y="447.5" font-size="9.8" text-anchor="end" fill="#000" transform="rotate(-45 315.82 447.5)">Infected</text>
<line x1="349.38" y1="435.2" x2="349.38" y2="440.5" stroke="#111" stroke-width="1.3" />
<text x="351.88" y="447.5" font-size="9.8" text-anchor="end" fill="#000" transform="rotate(-45 351.88 447.5)">E2E4</text>
<line x1="385.42" y1="435.2" x2="385.42" y2="440.5" stroke="#111" stroke-width="1.3" />
<text x="387.92" y="447.5" font-size="9.8" text-anchor="end" fill="#000" transform="rotate(-45 387.92 447.5)">Remdesivir</text>
<rect x="466.15" y="284.9" width="143.2" height="14" fill="url(#cb)" stroke="#000" stroke-width="1.4"/>
<line x1="494.37" y1="285.2" x2="494.37" y2="288" stroke="#111" stroke-width="1.3" />
<line x1="494.37" y1="295.8" x2="494.37" y2="298.6" stroke="#111" stroke-width="1.3" />
<text x="494.37" y="314.9" font-size="10.4" text-anchor="middle" fill="#000" font-weight="normal" >5</text>
<line x1="523.29" y1="285.2" x2="523.29" y2="288" stroke="#111" stroke-width="1.3" />
<line x1="523.29" y1="295.8" x2="523.29" y2="298.6" stroke="#111" stroke-width="1.3" />
<text x="523.29" y="314.9" font-size="10.4" text-anchor="middle" fill="#000" font-weight="normal" >10</text>
<line x1="552.21" y1="285.2" x2="552.21" y2="288" stroke="#111" stroke-width="1.3" />
<line x1="552.21" y1="295.8" x2="552.21" y2="298.6" stroke="#111" stroke-width="1.3" />
<text x="552.21" y="314.9" font-size="10.4" text-anchor="middle" fill="#000" font-weight="normal" >15</text>
<line x1="581.13" y1="285.2" x2="581.13" y2="288" stroke="#111" stroke-width="1.3" />
<line x1="581.13" y1="295.8" x2="581.13" y2="298.6" stroke="#111" stroke-width="1.3" />
<text x="581.13" y="314.9" font-size="10.4" text-anchor="middle" fill="#000" font-weight="normal" >20</text>
<text x="610.05" y="314.9" font-size="10.4" text-anchor="middle" fill="#000" font-weight="normal" >25</text>
<rect x="465.75" y="324.5" width="37.05" height="13.33" fill="#fefbec"/>
<rect x="501.8" y="324.5" width="37.05" height="13.33" fill="#e5a69e"/>
<rect x="537.85" y="324.5" width="37.05" height="13.33" fill="#fefbec"/>
<rect x="573.9" y="324.5" width="36.05" height="13.33" fill="#e4a49c"/>
<rect x="465.75" y="336.83" width="37.05" height="13.33" fill="#fefbec"/>
<rect x="501.8" y="336.83" width="37.05" height="13.33" fill="#e5a69e"/>
<rect x="537.85" y="336.83" width="37.05" height="13.33" fill="#fefbec"/>
<rect x="573.9" y="336.83" width="36.05" height="13.33" fill="#f2d4c8"/>
<rect x="465.75" y="349.17" width="37.05" height="13.33" fill="#faede0"/>
<rect x="501.8" y="349.17" width="37.05" height="13.33" fill="#e6a9a1"/>
<rect x="537.85" y="349.17" width="37.05" height="13.33" fill="#fefbec"/>
<rect x="573.9" y="349.17" width="36.05" height="13.33" fill="#e4a49c"/>
<rect x="465.75" y="361.5" width="37.05" height="13.33" fill="#fcf5e7"/>
<rect x="501.8" y="361.5" width="37.05" height="13.33" fill="#e4a29a"/>
<rect x="537.85" y="361.5" width="37.05" height="13.33" fill="#fcf4e6"/>
<rect x="573.9" y="361.5" width="36.05" height="13.33" fill="#edc1b7"/>
<rect x="465.75" y="373.83" width="37.05" height="13.33" fill="#fdf8e9"/>
<rect x="501.8" y="373.83" width="37.05" height="13.33" fill="#e4a29a"/>
<rect x="537.85" y="373.83" width="37.05" height="13.33" fill="#fefaeb"/>
<rect x="573.9" y="373.83" width="36.05" height="13.33" fill="#f0cbc0"/>
<rect x="465.75" y="386.17" width="37.05" height="13.33" fill="#f6e1d4"/>
<rect x="501.8" y="386.17" width="37.05" height="13.33" fill="#e4a29a"/>
<rect x="537.85" y="386.17" width="37.05" height="13.33" fill="#fdf9ea"/>
<rect x="573.9" y="386.17" width="36.05" height="13.33" fill="#eec6bb"/>
<rect x="465.75" y="398.5" width="37.05" height="13.33" fill="#fbefe1"/>
<rect x="501.8" y="398.5" width="37.05" height="13.33" fill="#e3a199"/>
<rect x="537.85" y="398.5" width="37.05" height="13.33" fill="#fdf9ea"/>
<rect x="573.9" y="398.5" width="36.05" height="13.33" fill="#efc8bd"/>
<rect x="465.75" y="410.83" width="37.05" height="13.33" fill="#f8e8da"/>
<rect x="501.8" y="410.83" width="37.05" height="13.33" fill="#e19891"/>
<rect x="537.85" y="410.83" width="37.05" height="13.33" fill="#fdf9ea"/>
<rect x="573.9" y="410.83" width="36.05" height="13.33" fill="#f6e0d3"/>
<rect x="465.75" y="423.17" width="37.05" height="12.33" fill="#fefbec"/>
<rect x="501.8" y="423.17" width="37.05" height="12.33" fill="#e6aca3"/>
<rect x="537.85" y="423.17" width="37.05" height="12.33" fill="#fefaeb"/>
<rect x="573.9" y="423.17" width="36.05" height="12.33" fill="#edc3b8"/>
<rect x="466.45" y="324.2" width="142.8" height="111" fill="none" stroke="#000" stroke-width="1.4"/>
<line x1="460.95" y1="330.67" x2="466.25" y2="330.67" stroke="#111" stroke-width="1.3" />
<text x="459.25" y="333.67" font-size="9.45" text-anchor="end" fill="#000" font-weight="normal" >CxCL10</text>
<line x1="460.95" y1="343" x2="466.25" y2="343" stroke="#111" stroke-width="1.3" />
<text x="459.25" y="346" font-size="9.45" text-anchor="end" fill="#000" font-weight="normal" >CxCL9</text>
<line x1="460.95" y1="355.33" x2="466.25" y2="355.33" stroke="#111" stroke-width="1.3" />
<text x="459.25" y="358.33" font-size="9.45" text-anchor="end" fill="#000" font-weight="normal" >IL-6</text>
<line x1="460.95" y1="367.67" x2="466.25" y2="367.67" stroke="#111" stroke-width="1.3" />
<text x="459.25" y="370.67" font-size="9.45" text-anchor="end" fill="#000" font-weight="normal" >IFNg</text>
<line x1="460.95" y1="380" x2="466.25" y2="380" stroke="#111" stroke-width="1.3" />
<text x="459.25" y="383" font-size="9.45" text-anchor="end" fill="#000" font-weight="normal" >CCL2</text>
<line x1="460.95" y1="392.33" x2="466.25" y2="392.33" stroke="#111" stroke-width="1.3" />
<text x="459.25" y="395.33" font-size="9.45" text-anchor="end" fill="#000" font-weight="normal" >CCL3</text>
<line x1="460.95" y1="404.67" x2="466.25" y2="404.67" stroke="#111" stroke-width="1.3" />
<text x="459.25" y="407.67" font-size="9.45" text-anchor="end" fill="#000" font-weight="normal" >CCL4</text>
<line x1="460.95" y1="417" x2="466.25" y2="417" stroke="#111" stroke-width="1.3" />
<text x="459.25" y="420" font-size="9.45" text-anchor="end" fill="#000" font-weight="normal" >CCL5</text>
<line x1="460.95" y1="429.33" x2="466.25" y2="429.33" stroke="#111" stroke-width="1.3" />
<text x="459.25" y="432.33" font-size="9.45" text-anchor="end" fill="#000" font-weight="normal" >Mx1</text>
<line x1="483.77" y1="435.2" x2="483.77" y2="440.5" stroke="#111" stroke-width="1.3" />
<text x="486.27" y="447.5" font-size="9.8" text-anchor="end" fill="#000" transform="rotate(-45 486.27 447.5)">Uninfected</text>
<line x1="519.83" y1="435.2" x2="519.83" y2="440.5" stroke="#111" stroke-width="1.3" />
<text x="522.33" y="447.5" font-size="9.8" text-anchor="end" fill="#000" transform="rotate(-45 522.33 447.5)">Infected</text>
<line x1="555.88" y1="435.2" x2="555.88" y2="440.5" stroke="#111" stroke-width="1.3" />
<text x="558.38" y="447.5" font-size="9.8" text-anchor="end" fill="#000" transform="rotate(-45 558.38 447.5)">E2 Trimer</text>
<line x1="591.92" y1="435.2" x2="591.92" y2="440.5" stroke="#111" stroke-width="1.3" />
<text x="594.42" y="447.5" font-size="9.8" text-anchor="end" fill="#000" transform="rotate(-45 594.42 447.5)">Remdesivir</text>
</svg></body></html>
